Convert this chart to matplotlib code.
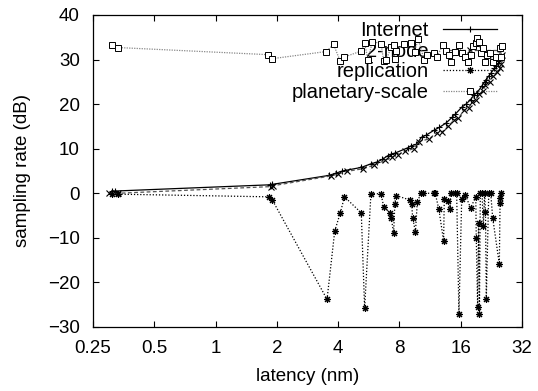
import matplotlib
matplotlib.use("Agg")
import matplotlib.pyplot as plt
from matplotlib.ticker import FixedLocator, FixedFormatter, NullLocator

plt.rcParams["font.family"] = ["Liberation Sans", "DejaVu Sans"]

# latency (nm) / sampling rate (dB)
internet_x = [0.31, 0.32, 1.85, 1.9, 3.6, 3.9, 4.2, 5.2, 5.8, 6.2, 6.6, 7.0, 7.3, 7.6,
              8.8, 9.1, 9.7, 10.3, 10.8, 11.9, 12.6, 13.6, 14.5, 15.1, 16.2, 17.0,
              17.9, 18.6, 19.3, 20.3, 21.0, 21.4, 22.0, 22.6, 23.4, 23.9, 24.5, 24.8,
              25.0, 25.2]
internet_y = [0.6, 0.5, 1.9, 2.0, 4.0, 4.5, 5.0, 5.8, 6.6, 7.0, 7.6, 8.4, 8.8, 9.0,
              10.2, 10.6, 11.0, 12.6, 13.0, 14.2, 14.8, 15.8, 17.0, 17.8, 19.3, 20.0,
              21.0, 22.0, 22.6, 24.0, 25.0, 25.5, 26.3, 27.0, 28.0, 28.5, 29.2, 29.6,
              30.5, 32.5]

node2_x = [0.30, 0.33, 1.88, 1.92, 3.7, 4.0, 4.4, 5.3, 6.0, 6.8, 7.4, 7.9, 8.5, 9.4,
           10.0, 11.2, 12.2, 13.0, 13.9, 14.8, 15.6, 16.6, 17.5, 18.3, 19.0, 19.8,
           20.6, 21.2, 22.2, 23.0, 24.2, 25.0, 25.4, 25.6]
node2_y = [0.1, 0.0, 1.5, 1.7, 3.9, 4.3, 4.9, 5.5, 6.3, 7.4, 8.2, 8.6, 9.4, 10.0,
           11.6, 12.2, 13.6, 13.8, 15.0, 16.4, 16.8, 18.6, 19.2, 20.4, 21.0, 22.2,
           23.0, 24.2, 25.0, 26.4, 27.2, 28.0, 29.0, 31.0]

replication_x = [0.31, 0.33, 1.84, 1.9, 3.53, 3.85, 4.1, 4.3, 5.2, 5.4, 5.8, 6.5, 6.7,
                 7.2, 7.3, 7.5, 7.6, 7.7, 9.0, 9.2, 9.3, 9.6, 9.8, 10.2, 10.4, 11.8,
                 12.0, 12.5, 13.2, 13.3, 13.8, 14.2, 14.3, 15.1, 15.3, 15.7, 16.2,
                 16.9, 17.9, 19.0, 19.1, 19.4, 19.6, 19.8, 20.0, 20.4, 20.7, 21.0,
                 21.2, 21.4, 22.0, 22.5, 23.0, 24.8, 25.0, 25.1, 25.2]
replication_y = [-0.1, -0.2, -0.8, -1.5, -23.8, -8.5, -4.4, -0.8, -4.4, -25.8, -0.1,
                 -0.1, -3.0, -4.4, -5.6, -8.9, -2.4, -0.5, -1.5, -2.5, -5.5, -8.7,
                 -2.0, 0.0, 0.0, 0.0, 0.0, -3.5, -10.7, -1.3, -1.8, -3.5, 0.0, 0.0,
                 0.0, -27.0, -1.3, -0.4, -3.3, -0.8, -10.0, -25.5, -6.7, -27.0, 0.0,
                 0.0, -7.4, 0.0, -4.2, -23.7, 0.0, 0.0, -5.5, -15.9, -2.2, -1.0, 0.0]

planetary_x = [0.31, 0.33, 1.8, 1.9, 3.5, 3.8, 4.1, 4.3, 5.2, 5.4, 5.6, 5.9, 6.5, 6.7,
               6.9, 7.3, 7.5, 7.6, 7.7, 8.4, 9.1, 9.5, 9.9, 10.6, 11.0, 11.8, 12.2,
               13.1, 13.5, 14.0, 14.3, 15.0, 15.7, 16.2, 16.8, 17.3, 18.0, 18.5, 19.0,
               19.3, 19.7, 20.2, 20.6, 21.1, 21.6, 22.4, 23.0, 24.0, 25.0, 25.3, 25.5]
planetary_y = [33.2, 32.7, 31.1, 30.2, 31.8, 33.4, 29.6, 30.6, 31.9, 33.8, 30.0, 34.0,
               33.6, 29.7, 30.0, 32.8, 33.3, 30.2, 31.9, 33.4, 33.8, 31.8, 34.5, 30.0,
               31.0, 31.4, 30.5, 33.3, 32.0, 31.0, 29.5, 31.8, 33.3, 31.4, 30.5, 29.5,
               31.0, 33.0, 33.7, 34.8, 34.0, 31.4, 32.5, 29.5, 31.0, 31.4, 29.5, 30.6,
               32.6, 30.6, 33.0]

x_ticks = [0.25, 0.5, 1, 2, 4, 8, 16, 32]
x_tick_labels = ["0.25", "0.5", "1", "2", "4", "8", "16", "32"]
y_ticks = [-30, -20, -10, 0, 10, 20, 30, 40]

fig = plt.figure(figsize=(5.38, 3.91), dpi=100)
ax = fig.add_axes([0.173, 0.1637, 0.797, 0.798])

ax.plot(internet_x, internet_y, color="black", lw=0.9, ls="-",
        marker="+", ms=5, mew=0.8, label="Internet")
ax.plot(node2_x, node2_y, color="#555555", lw=0.9, ls=(0, (3, 2)),
        marker="x", ms=4.5, mew=0.8, mec="black", label="2-node")
ax.plot(replication_x, replication_y, color="black", lw=0.9, ls=(0, (1, 1.5)),
        marker=(8, 2, 0), ms=5, mew=0.8, label="replication")
ax.plot(planetary_x, planetary_y, color="#888888", lw=0.9, ls=(0, (1, 1)),
        marker="s", ms=4.5, mew=0.7, mfc="white", mec="black",
        label="planetary-scale")

ax.set_xscale("log", base=2)
ax.set_xlim(0.25, 32)
ax.set_ylim(-30, 40)
ax.xaxis.set_major_locator(FixedLocator(x_ticks))
ax.xaxis.set_major_formatter(FixedFormatter(x_tick_labels))
ax.xaxis.set_minor_locator(NullLocator())
ax.set_yticks(y_ticks)

ax.tick_params(direction="in", top=True, right=True, length=4, width=0.8,
               labelsize=13.5, pad=9.5)
for s in ax.spines.values():
    s.set_linewidth(0.9)

ax.set_xlabel("latency (nm)", fontsize=13.5, labelpad=8)
ax.set_ylabel("sampling rate (dB)", fontsize=13.5, labelpad=12)

# gnuplot-style key: labels right-aligned, sample to the right
leg = ax.legend(loc="upper right", bbox_to_anchor=(0.942, 0.98), frameon=False,
                markerfirst=False, fontsize=14.5, handlelength=2.7,
                labelspacing=0.08, borderpad=0.0, borderaxespad=0.0,
                handletextpad=0.7)
leg.set_zorder(1.5)

# legend texts are left-aligned in matplotlib; redraw them right-aligned
# underneath the data, like the gnuplot key
fig.canvas.draw()
renderer = fig.canvas.get_renderer()
boxes = [t.get_window_extent(renderer) for t in leg.get_texts()]
right = max(b.x1 for b in boxes)
inv = fig.transFigure.inverted()
for t, b in zip(leg.get_texts(), boxes):
    fx, fy = inv.transform((right, b.y0))
    ax.text(fx, fy, t.get_text(), transform=fig.transFigure, ha="right",
            va="bottom", fontsize=14.5, zorder=1.5, clip_on=False)
    t.set_color("none")

fig.savefig("out.png", dpi=100)
